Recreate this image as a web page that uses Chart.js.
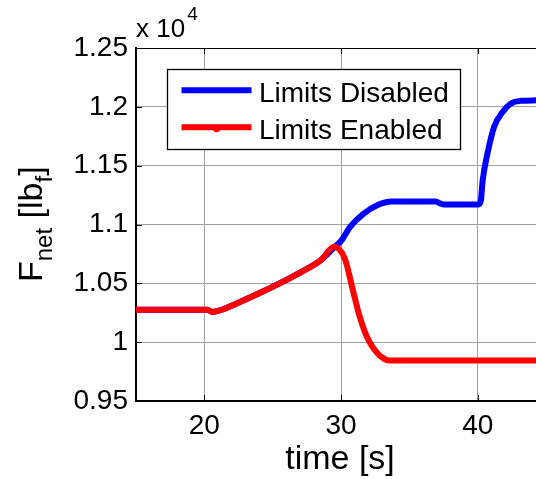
<!DOCTYPE html>
<html>
<head>
<meta charset="utf-8">
<script src="https://cdn.jsdelivr.net/npm/chart.js@4.4.1/dist/chart.umd.min.js"></script>
<style>
html,body{margin:0;padding:0;background:#fff;}
#wrap{width:536px;height:479px;}
</style>
</head>
<body>
<div id="wrap"><canvas id="c" width="536" height="479"></canvas></div>
<script>
// ---- data (time in s, force in lbf) ----
const seriesNames = ['Limits Disabled', 'Limits Enabled'];
const seriesColors = ['#0000ff', '#ff0000'];

const timeDisabled  = [15, 20.2, 20.6, 21.0, 22.6, 24.0, 25.5, 27.0, 28.5, 29.5, 30.05, 30.66, 31.63, 32.61, 33.7, 36.9, 37.5, 40.05, 40.22, 40.36, 40.72, 41.2, 41.82, 42.43, 43.16, 44.3];
const forceDisabled = [10276, 10276, 10257, 10265, 10341, 10415, 10500, 10592, 10695, 10805, 10868, 10980, 11091, 11162, 11195, 11195, 11170, 11170, 11200, 11375, 11608, 11830, 11957, 12029, 12051, 12055];

const timeEnabled  = [15, 20.2, 20.6, 21.0, 22.6, 24.0, 25.5, 27.0, 28.5, 29.5, 30.3, 30.8, 31.3, 31.9, 32.7, 33.6, 44.3];
const forceEnabled = [10276, 10276, 10257, 10265, 10341, 10415, 10500, 10592, 10695, 10810, 10702, 10474, 10242, 10043, 9901, 9844, 9844];

const xTicks = [20, 30, 40];
const yTicks = [9500, 10000, 10500, 11000, 11500, 12000, 12500];
const xRange = [15, 44.26];
const yRange = [9500, 12500];

const FONT = '"Liberation Sans", Arial, sans-serif';

function pts(t, f) { return t.map((v, i) => ({x: v, y: f[i]})); }

const decor = {
  id: 'decor',
  afterDatasetsDraw(chart) {
    const ctx = chart.ctx, a = chart.chartArea;
    const xs = chart.scales.x, ys = chart.scales.y;
    ctx.save();
    // top border
    ctx.strokeStyle = '#000'; ctx.lineWidth = 1;
    ctx.beginPath(); ctx.moveTo(a.left, a.top + 0.5); ctx.lineTo(a.right, a.top + 0.5); ctx.stroke();
    // inward tick marks
    yTicks.forEach(v => {
      const y = Math.round(ys.getPixelForValue(v)) + 0.5;
      ctx.beginPath(); ctx.moveTo(a.left, y); ctx.lineTo(a.left + 6, y); ctx.stroke();
    });
    xTicks.forEach(v => {
      const x = Math.round(xs.getPixelForValue(v)) + 0.5;
      ctx.beginPath(); ctx.moveTo(x, a.bottom); ctx.lineTo(x, a.bottom - 6); ctx.stroke();
      ctx.beginPath(); ctx.moveTo(x, a.top); ctx.lineTo(x, a.top + 6); ctx.stroke();
    });
    // legend box
    const lx = 167.5, ly = 69.5, lw = 293, lh = 80;
    ctx.fillStyle = '#fff';
    ctx.fillRect(lx, ly, lw, lh);
    ctx.strokeStyle = '#000'; ctx.lineWidth = 1.3;
    ctx.strokeRect(lx, ly, lw, lh);
    const rows = [90.3, 127.3];
    chart.data.datasets.forEach((ds, i) => {
      const y = rows[i];
      ctx.strokeStyle = ds.borderColor; ctx.lineWidth = 6; ctx.lineCap = 'butt';
      ctx.beginPath(); ctx.moveTo(181.5, y); ctx.lineTo(251.5, y); ctx.stroke();
      if (i === 1) {
        ctx.fillStyle = ds.borderColor;
        ctx.beginPath(); ctx.arc(216.5, y + 1.5, 3.5, 0, Math.PI * 2); ctx.fill();
      }
      ctx.fillStyle = '#000';
      ctx.font = '28px ' + FONT;
      ctx.textAlign = 'left'; ctx.textBaseline = 'alphabetic';
      ctx.fillText(ds.label, 259, y + 11.5);
    });
    ctx.restore();
  },
  afterDraw(chart) {
    const ctx = chart.ctx;
    ctx.save();
    ctx.fillStyle = '#000';
    ctx.textBaseline = 'alphabetic';
    // exponent
    ctx.textAlign = 'left';
    ctx.font = '26px ' + FONT;
    ctx.fillText('x 10', 136, 37);
    const w = ctx.measureText('x 10').width;
    ctx.font = '19px ' + FONT;
    ctx.fillText('4', 136 + w + 2, 20);
    // x title
    ctx.font = '34px ' + FONT;
    ctx.textAlign = 'center';
    ctx.fillText('time [s]', 340, 469);
    // y title with subscripts
    ctx.translate(42, 282);
    ctx.rotate(-Math.PI / 2);
    ctx.textAlign = 'left';
    const big = '34px ' + FONT, small = '24px ' + FONT;
    let x = 0;
    const parts = [['F', big, 0], ['net', small, 10], [' [lb', big, 0], ['f', small, 10], [']', big, 0]];
    parts.forEach(p => {
      ctx.font = p[1];
      ctx.fillText(p[0], x, p[2]);
      x += ctx.measureText(p[0]).width;
    });
    ctx.restore();
  }
};

new Chart(document.getElementById('c'), {
  type: 'line',
  data: {
    datasets: [
      {label: seriesNames[0], data: pts(timeDisabled, forceDisabled), borderColor: seriesColors[0], order: 1},
      {label: seriesNames[1], data: pts(timeEnabled, forceEnabled), borderColor: seriesColors[1], order: 0}
    ]
  },
  options: {
    responsive: false,
    devicePixelRatio: 1,
    animation: false,
    layout: {padding: {top: 48, right: 0, left: 0, bottom: 0}},
    elements: {
      line: {borderWidth: 6, cubicInterpolationMode: 'monotone', borderCapStyle: 'round', borderJoinStyle: 'round', fill: false},
      point: {radius: 0, hoverRadius: 0}
    },
    plugins: {legend: {display: false}, tooltip: {enabled: false}},
    scales: {
      x: {
        type: 'linear', min: xRange[0], max: xRange[1],
        afterBuildTicks(s) { s.ticks = xTicks.map(v => ({value: v})); },
        afterFit(s) { s.height = 78; },
        grid: {color: 'rgb(160,160,160)', lineWidth: 1, drawTicks: false},
        border: {display: true, color: '#000', width: 2},
        ticks: {color: '#000', font: {family: FONT, size: 28}, padding: 8, maxRotation: 0}
      },
      y: {
        type: 'linear', min: yRange[0], max: yRange[1],
        afterBuildTicks(s) { s.ticks = yTicks.map(v => ({value: v})); },
        afterFit(s) { s.width = 136; },
        grid: {color: 'rgb(160,160,160)', lineWidth: 1, drawTicks: false},
        border: {display: true, color: '#000', width: 2},
        ticks: {color: '#000', font: {family: FONT, size: 28}, padding: 8,
          callback: v => String(parseFloat((v / 10000).toFixed(2)))}
      }
    }
  },
  plugins: [decor]
});
</script>
</body>
</html>
